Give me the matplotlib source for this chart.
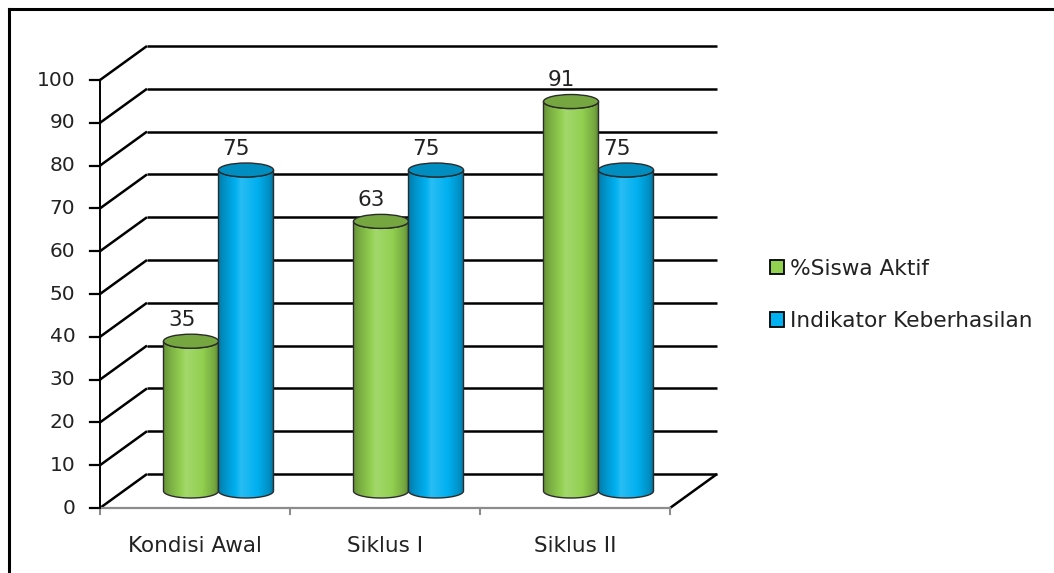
import numpy as np
import matplotlib
matplotlib.use("Agg")
import matplotlib.pyplot as plt
from matplotlib.patches import Polygon, Ellipse, Patch
from matplotlib.lines import Line2D
from matplotlib.colors import to_rgb

# --- data ---
categories = ["Kondisi Awal", "Siklus I", "Siklus II"]
siswa_aktif = [35, 63, 91]
indikator = [75, 75, 75]
series_names = ["%Siswa Aktif", "Indikator Keberhasilan"]
series_colors = ["#92d050", "#00b0f0"]
y_ticks = list(range(0, 101, 10))

# --- layout (pixels) ---
W, H, DPI = 1054, 573, 100
X0_PX, CAT_PX = 100, 190        # front-left corner, width of one category
Y0_PX, UNIT_PX = 508, 4.28      # y of value 0 (from top), pixels per unit
DEPTH_PX = (47, 34)             # oblique depth offset (right, up)

DX = DEPTH_PX[0] / CAT_PX
DY = DEPTH_PX[1] / UNIT_PX
R = 27.5 / CAT_PX               # cylinder radius (x data units)
B = 7.0 / UNIT_PX               # ellipse half height (y data units)

fig = plt.figure(figsize=(W / DPI, H / DPI), dpi=DPI)
ax = fig.add_axes([0, 0, 1, 1])
ax.set_xlim(-X0_PX / CAT_PX, (W - X0_PX) / CAT_PX)
ax.set_ylim(-(H - Y0_PX) / UNIT_PX, Y0_PX / UNIT_PX)
ax.axis("off")

txt = "#222222"
n = len(categories)
grid_kw = dict(color="black", lw=1.8, solid_capstyle="butt", zorder=1)

# back wall gridlines and left side wall
for v in y_ticks:
    ax.plot([DX, n + DX], [v + DY, v + DY], **grid_kw)
    ax.plot([0, DX], [v, v + DY], **grid_kw)
    ax.plot([-0.053, 0], [v, v], color="black", lw=1.6, zorder=1)
    ax.text(-0.13, v, str(v), ha="right", va="center", fontsize=14.5, color=txt)

# floor
ax.plot([n, n + DX], [0, DY], **grid_kw)
ax.plot([0, n], [0, 0], color="#8c8c8c", lw=1.6, zorder=1)
ax.plot([0, 0], [0, y_ticks[-1]], color="black", lw=1.4, zorder=2)
for i in range(n + 1):
    ax.plot([i, i], [0, -1.5], color="#8c8c8c", lw=1.5, zorder=1)


def shade(color, u):
    # lightness profile across the cylinder, u in [-1, 1]
    stops_u = [-1.0, -0.75, -0.2, 0.4, 0.85, 1.0]
    stops_f = [0.72, 0.85, 1.08, 1.0, 0.8, 0.62]
    f = np.interp(u, stops_u, stops_f)
    base = np.array(to_rgb(color))
    out = np.where(f[:, None] <= 1, base * f[:, None],
                   base + (1 - base) * (f[:, None] - 1) * 2)
    return np.clip(out, 0, 1)


def cylinder(cx, y0, y1, color, z):
    t = np.linspace(0, np.pi, 60)
    left = [(cx - R, y1), (cx - R, y0)]
    bottom = list(zip(cx - R * np.cos(t), y0 - B * np.sin(t)))
    top = list(zip(cx + R * np.cos(t), y1 - B * np.sin(t)))
    body = Polygon(left + bottom + top, closed=True, facecolor="none",
                   edgecolor="#2b2b2b", lw=1.0, zorder=z + 0.2)
    ax.add_patch(body)
    u = np.linspace(-1, 1, 120)
    img = shade(color, u)[None, :, :]
    im = ax.imshow(img, extent=(cx - R, cx + R, y0 - B, y1 + B),
                   aspect="auto", interpolation="bilinear", zorder=z + 0.1)
    im.set_clip_path(body)
    top_col = np.array(to_rgb(color)) * 0.8
    ax.add_patch(Ellipse((cx, y1), 2 * R, 2 * B, facecolor=top_col,
                         edgecolor="#2b2b2b", lw=1.0, zorder=z + 0.3))


for i in range(n):
    mid = i + 0.5 + DX / 2
    for k, vals in enumerate([siswa_aktif, indikator]):
        cx = mid + (2 * k - 1) * R
        v = vals[i]
        cylinder(cx, DY / 2, v + DY / 2, series_colors[k], 3 + 2 * i + k)
        ax.text(cx - 0.05, v + DY / 2 + 5.0, str(v), ha="center", va="center",
                fontsize=15.5, color=txt, zorder=20)
    ax.text(i + 0.5, -8.9, categories[i], ha="center", va="center",
            fontsize=15.5, color=txt)

handles = [Patch(facecolor=c, edgecolor="black", lw=1.3) for c in series_colors]
fig.legend(handles, series_names, loc="center left",
           bbox_to_anchor=(750 / W, 1 - 295 / H), frameon=False,
           fontsize=15.6, handlelength=0.65, handleheight=0.65,
           handletextpad=0.3, labelspacing=1.5, labelcolor=txt)

# outer frame (only top and left edges visible)
fig.add_artist(Line2D([9 / W, 9 / W], [0, 1 - 9 / H], color="black", lw=2.2,
                      transform=fig.transFigure))
fig.add_artist(Line2D([9 / W, 1], [1 - 9 / H, 1 - 9 / H], color="black", lw=2.2,
                      transform=fig.transFigure))

fig.savefig("out.png", dpi=DPI, facecolor="white")
